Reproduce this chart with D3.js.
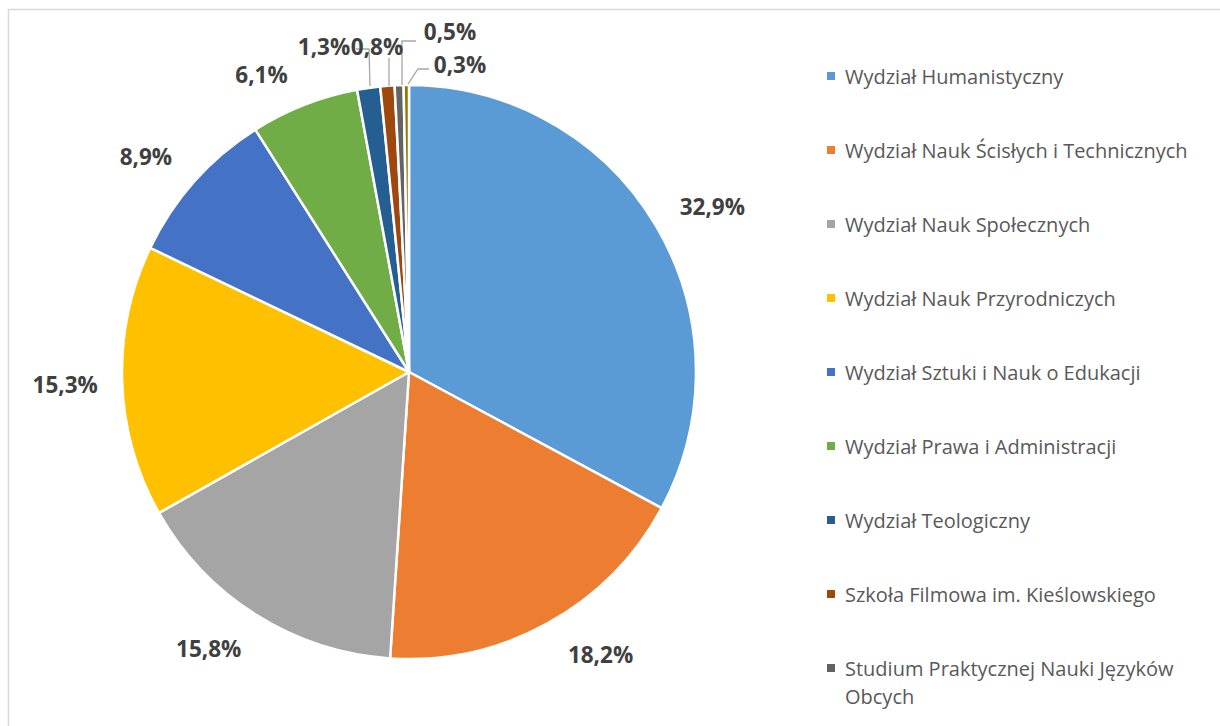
<!DOCTYPE html>
<html>
<head>
<meta charset="utf-8">
<script src="https://cdn.jsdelivr.net/npm/d3@7"></script>
<style>
  html, body { margin: 0; padding: 0; background: #fff; }
  svg { display: block; }
</style>
</head>
<body>
<div id="chart"></div>
<script>
// Data
const categories = [
    'Wydział Humanistyczny',
    'Wydział Nauk Ścisłych i Technicznych',
    'Wydział Nauk Społecznych',
    'Wydział Nauk Przyrodniczych',
    'Wydział Sztuki i Nauk o Edukacji',
    'Wydział Prawa i Administracji',
    'Wydział Teologiczny',
    'Szkoła Filmowa im. Kieślowskiego',
    'Studium Praktycznej Nauki Języków Obcych',
    'Kolegium Indywidualnych Studiów Interdyscyplinarnych'
];
const shares = [32.9, 18.2, 15.8, 15.3, 8.9, 6.1, 1.3, 0.8, 0.5, 0.3];
const colors = ['#5B9BD5', '#ED7D31', '#A5A5A5', '#FFC000', '#4472C4',
                '#70AD47', '#255E91', '#9E480E', '#636363', '#997300'];

const width = 1220, height = 726;
const cx = 409, cy = 372, radius = 287;
const labelRadius = 344;

// Excel "best fit" shifts each label a little from the centroid
const labelNudge = [[8, 19], [25, -10], [-17, -6], [0, 10], [-6, 22], [-22, 31]];

// the thin slices at the top have their labels pulled out with leader lines
const leaderLabels = {
    6: { x: 324, y: 55, pts: [[356, 49], [369, 49], [370, 86]] },
    7: { x: 377, y: 55, pts: [[389, 58], [389, 86]] },
    8: { x: 450, y: 40, pts: [[416, 41], [402, 41], [402, 85]] },
    9: { x: 460, y: 73, pts: [[429, 69], [418, 69], [408, 84]] }
};

const svg = d3.select('#chart')
    .append('svg')
    .attr('width', width)
    .attr('height', height);

// chart frame
svg.append('rect')
    .attr('x', 8.5).attr('y', 9.5)
    .attr('width', width + 20).attr('height', height + 20)
    .attr('fill', 'none')
    .attr('stroke', '#d9d9d9')
    .attr('stroke-width', 1.5);

const pie = d3.pie().sort(null).value(d => d);
const arcs = pie(shares);
const arc = d3.arc().innerRadius(0).outerRadius(radius);
const labelArc = d3.arc().innerRadius(labelRadius).outerRadius(labelRadius);

const g = svg.append('g').attr('transform', `translate(${cx},${cy})`);

g.selectAll('path.slice')
    .data(arcs)
    .enter()
    .append('path')
    .attr('class', 'slice')
    .attr('d', arc)
    .attr('fill', (d, i) => colors[i])
    .attr('stroke', '#fff')
    .attr('stroke-width', 2.5)
    .attr('stroke-linejoin', 'round');

const fmt = v => v.toFixed(1).replace('.', ',') + '%';

// leader lines
Object.values(leaderLabels).forEach(ll => {
    svg.append('polyline')
        .attr('points', ll.pts.map(p => p.join(',')).join(' '))
        .attr('fill', 'none')
        .attr('stroke', '#a6a6a6')
        .attr('stroke-width', 1.3);
});

function labelPos(d, i) {
    if (leaderLabels[i]) return [leaderLabels[i].x, leaderLabels[i].y];
    const c = labelArc.centroid(d);
    const n = labelNudge[i] || [0, 0];
    return [cx + c[0] + n[0], cy + c[1] + n[1]];
}

// value labels
svg.selectAll('text.val')
    .data(arcs)
    .enter()
    .append('text')
    .attr('class', 'val')
    .attr('x', (d, i) => labelPos(d, i)[0])
    .attr('y', (d, i) => labelPos(d, i)[1])
    .attr('text-anchor', 'middle')
    .attr('font-family', 'Open Sans, Noto Sans, sans-serif')
    .attr('font-weight', 'bold')
    .attr('font-size', 22.5)
    .attr('fill', '#404040')
    .text(d => fmt(d.data));

// legend
const legendX = 827, legendY0 = 76, legendStep = 74, legendMaxW = 365;
const legend = svg.append('g');
categories.forEach((name, i) => {
    const y = legendY0 + i * legendStep;
    if (y > height - 20) return;
    legend.append('rect')
        .attr('x', legendX).attr('y', y - 4)
        .attr('width', 8).attr('height', 8)
        .attr('fill', colors[i]);
    const t = legend.append('text')
        .attr('x', legendX + 18)
        .attr('y', y)
        .attr('dominant-baseline', 'central')
        .attr('font-family', 'Open Sans, Noto Sans, sans-serif')
        .attr('font-size', 20)
        .attr('fill', '#595959');
    // wrap long names by measured width
    const words = name.split(' ');
    let tspan = t.append('tspan').attr('x', legendX + 18).attr('dy', 0);
    let line = [];
    words.forEach(w => {
        line.push(w);
        tspan.text(line.join(' '));
        if (tspan.node().getComputedTextLength() > legendMaxW && line.length > 1) {
            line.pop();
            tspan.text(line.join(' '));
            line = [w];
            tspan = t.append('tspan').attr('x', legendX + 18).attr('dy', 28).text(w);
        }
    });
});
</script>
</body>
</html>
